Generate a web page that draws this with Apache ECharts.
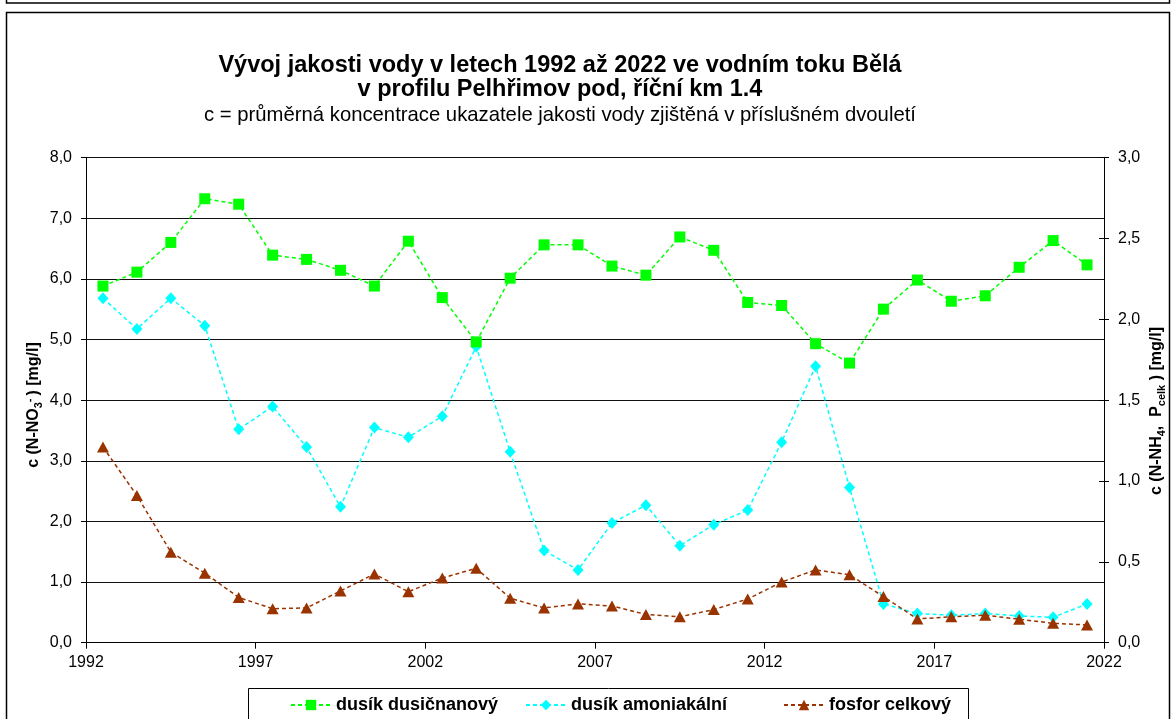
<!DOCTYPE html>
<html>
<head>
<meta charset="utf-8">
<script src="https://cdn.jsdelivr.net/npm/echarts@6/dist/echarts.min.js"></script>
<style>
  html, body { margin: 0; padding: 0; background: #fff; }
  #chart { width: 1173px; height: 719px; }
</style>
</head>
<body>
<div id="chart"></div>
<script>
// Two-year averages, plotted at the middle of each period
const periods = [1992.5, 1993.5, 1994.5, 1995.5, 1996.5, 1997.5, 1998.5, 1999.5, 2000.5, 2001.5,
                 2002.5, 2003.5, 2004.5, 2005.5, 2006.5, 2007.5, 2008.5, 2009.5, 2010.5, 2011.5,
                 2012.5, 2013.5, 2014.5, 2015.5, 2016.5, 2017.5, 2018.5, 2019.5, 2020.5, 2021.5];

// dusík dusičnanový, N-NO3- [mg/l] (left axis)
const nitrate = [5.88, 6.11, 6.60, 7.32, 7.23, 6.39, 6.32, 6.14, 5.88, 6.62,
                 5.69, 4.96, 6.01, 6.56, 6.56, 6.21, 6.06, 6.69, 6.47, 5.61,
                 5.56, 4.93, 4.61, 5.50, 5.98, 5.63, 5.72, 6.19, 6.63, 6.23];

// dusík amoniakální, N-NH4 [mg/l] (right axis)
const ammonium = [2.13, 1.94, 2.13, 1.96, 1.32, 1.46, 1.21, 0.84, 1.33, 1.27,
                  1.40, 1.83, 1.18, 0.57, 0.45, 0.74, 0.85, 0.60, 0.73, 0.82,
                  1.24, 1.71, 0.96, 0.24, 0.18, 0.17, 0.18, 0.165, 0.157, 0.24];

// fosfor celkový, P celk [mg/l] (right axis)
const phosphorus = [1.21, 0.91, 0.56, 0.43, 0.28, 0.21, 0.215, 0.32, 0.425, 0.315,
                    0.40, 0.46, 0.275, 0.215, 0.24, 0.227, 0.175, 0.16, 0.205, 0.27,
                    0.375, 0.45, 0.42, 0.285, 0.147, 0.16, 0.17, 0.145, 0.12, 0.11];

const seriesNames = ['dusík dusičnanový', 'dusík amoniakální', 'fosfor celkový'];
const titleLines = ['Vývoj jakosti vody v letech 1992 až 2022 ve vodním toku Bělá',
                    'v profilu Pelhřimov pod, říční km 1.4'];
const subtitle = 'c = průměrná koncentrace ukazatele jakosti vody zjištěná v příslušném dvouletí';

const FONT = '"Liberation Sans", Arial, sans-serif';
const pairs = (ys) => periods.map((x, i) => [x, ys[i]]);
const comma1 = (v) => v.toFixed(1).replace('.', ',');

const chart = echarts.init(document.getElementById('chart'), null, { renderer: 'canvas' });

const dash = [4, 3];
const legendText = { color: '#000', fontSize: 18, fontWeight: 'bold', fontFamily: FONT };
const legendCommon = { top: 696, padding: 0, itemWidth: 40, itemHeight: 13, textStyle: legendText };

chart.setOption({
  animation: false,
  backgroundColor: '#ffffff',
  textStyle: { fontFamily: FONT },
  grid: { left: 86, right: 69, top: 157.5, bottom: 76.3, containLabel: false },
  xAxis: {
    type: 'value', min: 1992, max: 2022, interval: 5,
    axisLine: { show: true, lineStyle: { color: '#000', width: 1 } },
    axisTick: { show: true, length: 6, lineStyle: { color: '#000' } },
    axisLabel: { color: '#000', fontSize: 16, margin: 12, fontFamily: FONT, formatter: (v) => String(v) },
    splitLine: { show: false }
  },
  yAxis: [
    {
      type: 'value', min: 0, max: 8, interval: 1, position: 'left',
      axisLine: { show: true, lineStyle: { color: '#000', width: 1 } },
      axisTick: { show: true, length: 5, lineStyle: { color: '#000' } },
      axisLabel: { color: '#000', fontSize: 16, margin: 14, fontFamily: FONT, formatter: comma1 },
      splitLine: { show: true, lineStyle: { color: '#111', width: 1 } }
    },
    {
      type: 'value', min: 0, max: 3, interval: 0.5, position: 'right',
      axisLine: { show: true, lineStyle: { color: '#000', width: 1 } },
      axisTick: { show: true, length: 5, lineStyle: { color: '#000' } },
      axisLabel: { color: '#000', fontSize: 16, margin: 14, fontFamily: FONT, formatter: comma1 },
      splitLine: { show: false }
    },
    {
      // inner half of the crossing ticks on the right axis
      type: 'value', min: 0, max: 3, interval: 0.5, position: 'right',
      axisLine: { show: false },
      axisTick: { show: true, inside: true, length: 5, lineStyle: { color: '#000' } },
      axisLabel: { show: false },
      splitLine: { show: false }
    }
  ],
  legend: [
    Object.assign({ left: 290, data: [seriesNames[0]] }, legendCommon),
    Object.assign({ left: 525, data: [seriesNames[1]] }, legendCommon),
    Object.assign({ left: 783, data: [seriesNames[2]] }, legendCommon)
  ],
  series: [
    {
      name: seriesNames[0], type: 'line', yAxisIndex: 0, data: pairs(nitrate),
      symbol: 'rect', symbolSize: 11,
      lineStyle: { color: '#00ff00', width: 1.5, type: dash },
      itemStyle: { color: '#00ff00' }, z: 3
    },
    {
      name: seriesNames[1], type: 'line', yAxisIndex: 1, data: pairs(ammonium),
      symbol: 'diamond', symbolSize: [11, 12],
      lineStyle: { color: '#00ffff', width: 1.5, type: dash },
      itemStyle: { color: '#00ffff' }, z: 2
    },
    {
      name: seriesNames[2], type: 'line', yAxisIndex: 1, data: pairs(phosphorus),
      symbol: 'triangle', symbolSize: [12, 11],
      lineStyle: { color: '#993300', width: 1.5, type: dash },
      itemStyle: { color: '#993300' }, z: 4
    }
  ],
  graphic: [
    // outer frames
    { type: 'rect', shape: { x: 6.5, y: -20, width: 1163, height: 23 }, style: { fill: null, stroke: '#000', lineWidth: 1.5 }, silent: true },
    { type: 'rect', shape: { x: 6.5, y: 12.5, width: 1163, height: 720 }, style: { fill: null, stroke: '#000', lineWidth: 1.5 }, silent: true },
    // legend box
    { type: 'rect', shape: { x: 248.5, y: 688.5, width: 720, height: 40 }, style: { fill: null, stroke: '#000', lineWidth: 1 }, silent: true },
    // titles
    { type: 'text', x: 560, y: 66, style: { text: titleLines[0], font: 'bold 23.5px ' + FONT, fill: '#000', textAlign: 'center', textVerticalAlign: 'middle' } },
    { type: 'text', x: 560, y: 90, style: { text: titleLines[1], font: 'bold 23.5px ' + FONT, fill: '#000', textAlign: 'center', textVerticalAlign: 'middle' } },
    { type: 'text', x: 560, y: 115, style: { text: subtitle, font: '20.3px ' + FONT, fill: '#000', textAlign: 'center', textVerticalAlign: 'middle' } },
    // axis titles
    {
      type: 'text', x: 34, y: 405, rotation: Math.PI / 2,
      style: {
        text: '{b|c (N-NO}{s|3}{p|-}{b|) [mg/l]}', textAlign: 'center', textVerticalAlign: 'middle',
        rich: {
          b: { font: 'bold 16px ' + FONT, fill: '#000', lineHeight: 20, verticalAlign: 'middle' },
          s: { font: 'bold 11px ' + FONT, fill: '#000', lineHeight: 20, verticalAlign: 'bottom' },
          p: { font: 'bold 11px ' + FONT, fill: '#000', lineHeight: 20, verticalAlign: 'top', padding: [0, 3, 0, 0] }
        }
      }
    },
    {
      type: 'text', x: 1157, y: 411, rotation: Math.PI / 2,
      style: {
        text: '{b|c (N-NH}{s|4}{b|,  P}{s|celk}{b| ) [mg/l]}', textAlign: 'center', textVerticalAlign: 'middle',
        rich: {
          b: { font: 'bold 16px ' + FONT, fill: '#000', lineHeight: 20, verticalAlign: 'middle' },
          s: { font: 'bold 11px ' + FONT, fill: '#000', lineHeight: 20, verticalAlign: 'bottom' }
        }
      }
    }
  ]
});
</script>
</body>
</html>
